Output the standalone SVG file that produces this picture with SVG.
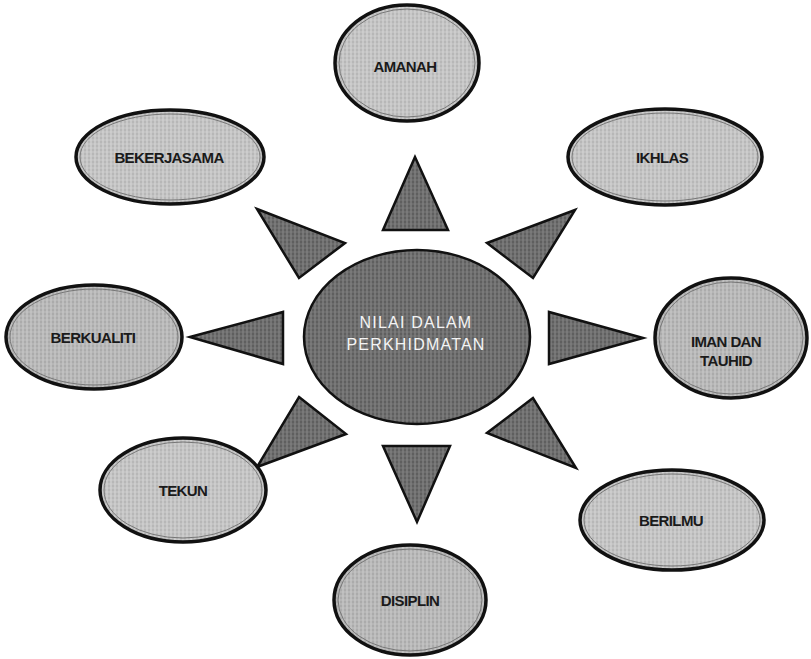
<svg xmlns="http://www.w3.org/2000/svg" width="811" height="659" viewBox="0 0 811 659">
  <defs>
    <pattern id="light" width="8" height="8" patternUnits="userSpaceOnUse">
      <rect width="8" height="8" fill="#c2c2c2"/>
      <path d="M0 2H8M0 6H8" stroke="#adadad" stroke-width="1.2"/>
      <path d="M3 0V8M7 0V8" stroke="#d4d4d4" stroke-width="1.2"/>
    </pattern>
    <pattern id="mid" width="8" height="8" patternUnits="userSpaceOnUse">
      <rect width="8" height="8" fill="#b6b6b6"/>
      <path d="M0 2H8M0 6H8" stroke="#a0a0a0" stroke-width="1.2"/>
      <path d="M3 0V8M7 0V8" stroke="#c9c9c9" stroke-width="1.2"/>
    </pattern>
    <pattern id="dark" width="8" height="8" patternUnits="userSpaceOnUse">
      <rect width="8" height="8" fill="#6c6c6c"/>
      <path d="M0 2H8M0 6H8" stroke="#5a5a5a" stroke-width="1.3"/>
      <path d="M3 0V8M7 0V8" stroke="#818181" stroke-width="1.3"/>
    </pattern>
  </defs>
  <style>
    .node ellipse { fill: url(#light); stroke: #111; stroke-width: 3.5; }
    .node.m ellipse { fill: url(#mid); }
    .node ellipse.in { fill: none; stroke: #777; stroke-width: 1; }
    .center ellipse { fill: url(#dark); stroke: #111; stroke-width: 2.5; }
    .lbl { font-family: "Liberation Sans", Arial, sans-serif; font-size: 15px; font-weight: bold; fill: #1a1a1a; text-anchor: middle; letter-spacing: -0.6px; }
    .clbl { font-family: "Liberation Sans", Arial, sans-serif; font-size: 16px; fill: #f4f4f4; text-anchor: middle; letter-spacing: 1.2px; }
    .tri polygon { fill: url(#dark); stroke: #111; stroke-width: 2.5; stroke-linejoin: miter; }
  </style>
  <rect width="811" height="659" fill="#fff"/>

  <g id="connectors" class="tri">
    <polygon points="415,157 383,230 448,230"/>
    <polygon points="575,210 487,243 533,278"/>
    <polygon points="257,209 345,243 299,278"/>
    <polygon points="190,337 283,312 283,364"/>
    <polygon points="643,338 549,312 549,364"/>
    <polygon points="299,397 346,434 257,467"/>
    <polygon points="533,398 487,433 576,468"/>
    <polygon points="383,446 450,446 417,522"/>
  </g>

  <g id="center" class="center">
    <ellipse cx="417" cy="337" rx="113" ry="87"/>
    <text class="clbl" x="416" y="328">NILAI DALAM</text>
    <text class="clbl" x="416" y="350">PERKHIDMATAN</text>
  </g>

  <g id="amanah" class="node">
    <ellipse cx="407" cy="63" rx="72" ry="58"/>
    <ellipse class="in" cx="407" cy="63" rx="68" ry="54"/>
    <text class="lbl" x="405" y="72">AMANAH</text>
  </g>
  <g id="bekerjasama" class="node">
    <ellipse cx="170" cy="157" rx="94" ry="47"/>
    <ellipse class="in" cx="170" cy="157" rx="90" ry="43"/>
    <text class="lbl" x="169" y="163">BEKERJASAMA</text>
  </g>
  <g id="ikhlas" class="node">
    <ellipse cx="665" cy="157" rx="97" ry="48"/>
    <ellipse class="in" cx="665" cy="157" rx="93" ry="44"/>
    <text class="lbl" x="662" y="163">IKHLAS</text>
  </g>
  <g id="berkualiti" class="node m">
    <ellipse cx="94" cy="337" rx="88" ry="52"/>
    <ellipse class="in" cx="94" cy="337" rx="84" ry="48"/>
    <text class="lbl" x="93" y="343">BERKUALITI</text>
  </g>
  <g id="iman-dan-tauhid" class="node m">
    <ellipse cx="731" cy="338" rx="76" ry="60"/>
    <ellipse class="in" cx="731" cy="338" rx="72" ry="56"/>
    <text class="lbl" x="726" y="347">IMAN DAN</text>
    <text class="lbl" x="726" y="366">TAUHID</text>
  </g>
  <g id="tekun" class="node">
    <ellipse cx="183" cy="490" rx="83" ry="52"/>
    <ellipse class="in" cx="183" cy="490" rx="79" ry="48"/>
    <text class="lbl" x="183" y="496">TEKUN</text>
  </g>
  <g id="berilmu" class="node">
    <ellipse cx="672" cy="520" rx="92" ry="50"/>
    <ellipse class="in" cx="672" cy="520" rx="88" ry="46"/>
    <text class="lbl" x="671" y="526">BERILMU</text>
  </g>
  <g id="disiplin" class="node m">
    <ellipse cx="410" cy="600" rx="76" ry="55"/>
    <ellipse class="in" cx="410" cy="600" rx="72" ry="51"/>
    <text class="lbl" x="410" y="606">DISIPLIN</text>
  </g>
</svg>
